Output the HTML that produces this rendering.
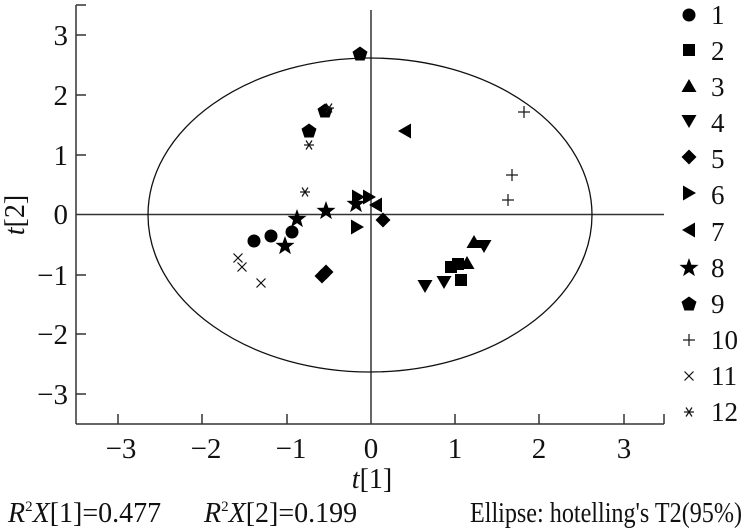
<!DOCTYPE html>
<html><head><meta charset="utf-8"><style>
html,body{margin:0;padding:0;background:#fff;}
svg{display:block;}
text{font-family:"Liberation Serif",serif;fill:#111;}
</style></head><body>
<svg width="746" height="530" viewBox="0 0 746 530" xmlns="http://www.w3.org/2000/svg">
<defs>
<circle id="c" r="6.5"/>
<rect id="s" x="-6" y="-6" width="12" height="12"/>
<polygon id="tu" points="0,-7 7.5,6 -7.5,6"/>
<polygon id="td" points="0,7 7.5,-6 -7.5,-6"/>
<polygon id="di" points="0,-7.5 7.5,0 0,7.5 -7.5,0"/>
<polygon id="tr" points="7,0 -6,-7.5 -6,7.5"/>
<polygon id="tl" points="-7,0 6,-7.5 6,7.5"/>
<polygon id="st" points="0,-10 2.4,-3.3 9.5,-3.1 3.9,1.3 5.9,8.1 0,4.1 -5.9,8.1 -3.9,1.3 -9.5,-3.1 -2.4,-3.3"/>
<polygon id="pe" points="0,-7.5 7.5,-2.2 4.6,6.5 -4.6,6.5 -7.5,-2.2"/>
<g id="pl" stroke="#111" stroke-width="1.2" fill="none"><line x1="-6" y1="0" x2="6" y2="0"/><line x1="0" y1="-6" x2="0" y2="6"/></g>
<g id="x" stroke="#111" stroke-width="1.2" fill="none"><line x1="-4.5" y1="-4.5" x2="4.5" y2="4.5"/><line x1="-4.5" y1="4.5" x2="4.5" y2="-4.5"/></g>
<g id="as" stroke="#111" stroke-width="1.2" fill="none"><line x1="-5" y1="0" x2="5" y2="0"/><line x1="-3" y1="-4.5" x2="3" y2="4.5"/><line x1="-3" y1="4.5" x2="3" y2="-4.5"/></g>
</defs>
<g stroke="#333" stroke-width="1.5" fill="none">
<line x1="76" y1="5" x2="76" y2="424"/>
<line x1="76" y1="424" x2="664" y2="424"/>
<line x1="76" y1="214.5" x2="664" y2="214.5"/>
<line x1="371" y1="10" x2="371" y2="424"/>
<line x1="76" y1="5" x2="86" y2="5"/>
<line x1="76" y1="35" x2="86" y2="35"/><line x1="76" y1="95" x2="86" y2="95"/><line x1="76" y1="155" x2="86" y2="155"/><line x1="76" y1="275" x2="86" y2="275"/><line x1="76" y1="334" x2="86" y2="334"/><line x1="76" y1="394" x2="86" y2="394"/>
<line x1="118" y1="424" x2="118" y2="414"/><line x1="202" y1="424" x2="202" y2="414"/><line x1="287" y1="424" x2="287" y2="414"/><line x1="455" y1="424" x2="455" y2="414"/><line x1="539" y1="424" x2="539" y2="414"/><line x1="624" y1="424" x2="624" y2="414"/><line x1="664" y1="424" x2="664" y2="414"/>
</g>
<ellipse cx="370" cy="215" rx="222" ry="157" fill="none" stroke="#111" stroke-width="1.3"/>
<g font-size="29" text-anchor="end">
<text x="68" y="45">3</text><text x="68" y="105">2</text><text x="68" y="165">1</text><text x="68" y="224">0</text><text x="68" y="285">−1</text><text x="68" y="344">−2</text><text x="68" y="404">−3</text>
</g>
<g font-size="29" text-anchor="middle">
<text x="121" y="458">−3</text><text x="206" y="458">−2</text><text x="291" y="458">−1</text><text x="371" y="458">0</text><text x="455" y="458">1</text><text x="539" y="458">2</text><text x="624" y="458">3</text>
</g>
<text x="372" y="488" font-size="28" text-anchor="middle"><tspan font-style="italic">t</tspan>[1]</text>
<text transform="translate(24,215) rotate(-90)" font-size="28" text-anchor="middle"><tspan font-style="italic">t</tspan>[2]</text>
<text x="8" y="522" font-size="28"><tspan font-style="italic">R</tspan><tspan font-size="15" dy="-11">2</tspan><tspan font-style="italic" dy="11">X</tspan>[1]=0.477</text>
<text x="204" y="522" font-size="28"><tspan font-style="italic">R</tspan><tspan font-size="15" dy="-11">2</tspan><tspan font-style="italic" dy="11">X</tspan>[2]=0.199</text>
<text x="470" y="522" font-size="28" textLength="272" lengthAdjust="spacingAndGlyphs">Ellipse: hotelling's T2(95%)</text>
<g fill="#000">
<use href="#pe" x="360" y="54"/><use href="#pe" x="325" y="111"/><use href="#pe" x="309" y="131"/>
<use href="#as" x="309" y="145"/><use href="#as" x="305" y="192"/><use href="#as" x="329" y="108"/>
<use href="#tl" x="405" y="131"/><use href="#tl" x="376" y="205"/>
<use href="#tr" x="358" y="197"/><use href="#tr" x="357" y="227"/><use href="#tr" x="369" y="197"/>
<use href="#st" x="326" y="211"/><use href="#st" x="297" y="219"/><use href="#st" x="285" y="246"/><use href="#st" x="356" y="204"/>
<use href="#c" x="254" y="241"/><use href="#c" x="271" y="236"/><use href="#c" x="292" y="232"/>
<use href="#di" x="383" y="220"/><use href="#di" x="322" y="276"/><use href="#di" x="326" y="272"/>
<use href="#x" x="238" y="258"/><use href="#x" x="242" y="267"/><use href="#x" x="261" y="283"/>
<use href="#s" x="451" y="267"/><use href="#s" x="461" y="280"/><use href="#s" x="458" y="264"/>
<use href="#tu" x="474" y="242"/><use href="#tu" x="467" y="263"/>
<use href="#td" x="425" y="286"/><use href="#td" x="444" y="282"/><use href="#td" x="484" y="246"/>
<use href="#pl" x="524" y="112"/><use href="#pl" x="512" y="175"/><use href="#pl" x="508" y="200"/>
</g>
<g fill="#000">
<use href="#c" x="689" y="15"/>
<use href="#s" x="689" y="50"/>
<use href="#tu" x="689" y="86"/>
<use href="#td" x="689" y="121"/>
<use href="#di" x="689" y="157"/>
<use href="#tr" x="689" y="193"/>
<use href="#tl" x="689" y="230"/>
<use href="#st" x="689" y="268"/>
<use href="#pe" x="689" y="304"/>
<use href="#pl" x="689" y="340"/>
<use href="#x" x="689" y="376"/>
<use href="#as" x="689" y="412"/>
</g>
<g font-size="27">
<text x="711" y="24">1</text><text x="711" y="60">2</text><text x="711" y="96">3</text><text x="711" y="132">4</text><text x="711" y="168">5</text><text x="711" y="204">6</text><text x="711" y="241">7</text><text x="711" y="277">8</text><text x="711" y="313">9</text><text x="711" y="349">10</text><text x="711" y="385">11</text><text x="711" y="421">12</text>
</g>
</svg>
</body></html>
